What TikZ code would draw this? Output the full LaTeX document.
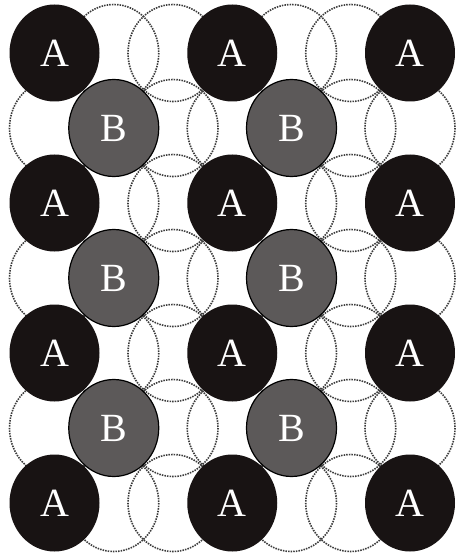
\documentclass[tikz,border=0pt]{standalone}
\usepackage{fontspec}
\setmainfont{Liberation Serif}
\usetikzlibrary{shapes.geometric}
\definecolor{afill}{RGB}{24,19,19}
\definecolor{bfill}{RGB}{92,89,89}
\definecolor{dotcol}{RGB}{60,60,60}
\tikzset{
  sitebox/.style={ellipse, minimum width=90pt, minimum height=97pt, inner sep=0pt,
    text=white, font=\fontsize{40}{44}\selectfont},
  abox/.style={sitebox, fill=afill},
  bbox/.style={sitebox, fill=bfill, draw=black, line width=1.2pt},
  emptybox/.style={draw=dotcol, line width=1.6pt, dash pattern=on 1.5pt off 1.1pt}
}
\begin{document}
\begin{tikzpicture}[x=1pt,y=-1pt]
\useasboundingbox[fill=white] (0,0) rectangle (457,556);
% empty (dotted) sites
\foreach \r in {0,2,4,6}{
  \foreach \c in {1,2,4,5}{
    \draw[emptybox] ({54.5+59.25*\c},{53+75*\r}) ellipse [x radius=45, y radius=48.5];
  }
}
\foreach \r in {1,3,5}{
  \foreach \c in {0,2,3,5,6}{
    \draw[emptybox] ({54.5+59.25*\c},{53+75*\r}) ellipse [x radius=45, y radius=48.5];
  }
}
% A sites
\foreach \r in {0,2,4,6}{
  \foreach \c in {0,3,6}{
    \node[abox] (a-\r-\c) at ({54.5+59.25*\c},{53+75*\r}) {A};
  }
}
% B sites
\foreach \r in {1,3,5}{
  \foreach \c in {1,4}{
    \node[bbox] (b-\r-\c) at ({54.5+59.25*\c},{53+75*\r}) {B};
  }
}
\end{tikzpicture}
\end{document}
